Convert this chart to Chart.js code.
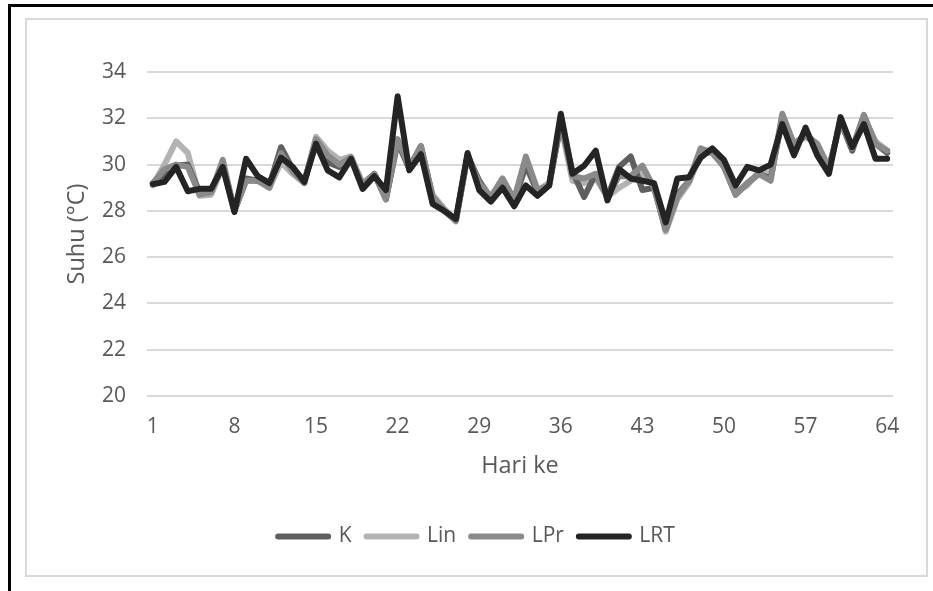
<!DOCTYPE html>
<html>
<head>
<meta charset="utf-8">
<script src="https://cdn.jsdelivr.net/npm/chart.js@4.4.1/dist/chart.umd.min.js"></script>
<style>
  html, body { margin: 0; padding: 0; background: #fff; overflow: hidden; }
  #frame { position: absolute; left: 8px; top: 4px; width: 1000px; height: 700px;
           border-left: 3px solid #000; border-top: 3px solid #000; }
  #box { position: absolute; left: 25px; top: 18px; width: 899px; height: 555px;
         border: 2px solid #d9d9d9; }
  #chart { display: block; }
</style>
</head>
<body>
<div id="frame"></div>
<div id="box"><canvas id="chart" width="899" height="555"></canvas></div>
<script>
const days = Array.from({ length: 64 }, (_, i) => i + 1);
const tickDays = [1, 8, 15, 22, 29, 36, 43, 50, 57, 64];

const valuesK = [29.2, 29.6, 29.95, 30.0, 28.8, 28.85, 30.0, 28.0, 29.4, 29.3,
  29.1, 30.75, 29.8, 29.3, 31.0, 30.1, 29.9, 30.3, 29.1, 29.6,
  28.5, 31.0, 29.8, 30.8, 28.6, 28.0, 27.6, 30.4, 29.3, 28.5,
  29.3, 28.4, 30.0, 28.8, 29.1, 31.8, 29.7, 28.6, 29.6, 28.6,
  29.9, 30.35, 28.9, 29.0, 27.2, 28.7, 29.3, 30.6, 30.6, 29.9,
  28.7, 29.2, 29.6, 29.4, 32.0, 30.8, 31.3, 30.8, 29.8, 31.9,
  30.6, 32.1, 30.9, 30.5];

const valuesLin = [29.1, 30.0, 31.0, 30.5, 28.65, 28.7, 29.9, 28.0, 29.3, 29.3,
  29.0, 30.1, 29.6, 29.2, 31.2, 30.6, 30.2, 30.35, 29.2, 29.6,
  28.6, 30.9, 29.9, 30.7, 28.7, 28.1, 27.6, 30.3, 29.3, 28.6,
  29.2, 28.5, 29.9, 28.9, 29.2, 31.7, 29.3, 29.2, 29.4, 28.6,
  29.0, 29.3, 29.6, 29.1, 27.1, 28.5, 29.2, 30.5, 30.5, 30.0,
  28.8, 29.1, 29.7, 29.6, 32.0, 30.9, 31.2, 30.9, 29.9, 31.8,
  30.7, 32.0, 31.0, 30.6];

const valuesLPr = [29.2, 29.8, 30.0, 29.9, 28.7, 28.8, 30.2, 28.0, 29.3, 29.3,
  29.0, 30.5, 29.7, 29.2, 31.1, 30.4, 30.0, 30.3, 29.1, 29.6,
  28.5, 31.1, 29.9, 30.8, 28.6, 28.0, 27.55, 30.4, 29.2, 28.6,
  29.4, 28.5, 30.35, 28.9, 29.1, 31.9, 29.5, 29.4, 29.6, 28.6,
  29.5, 29.5, 29.95, 29.0, 27.2, 28.6, 29.3, 30.7, 30.5, 29.9,
  28.7, 29.2, 29.6, 29.3, 32.2, 30.9, 31.3, 30.9, 29.8, 31.9,
  30.7, 32.15, 30.9, 30.6];

const valuesLRT = [29.15, 29.25, 29.9, 28.85, 28.95, 28.95, 29.9, 27.95, 30.25, 29.5,
  29.2, 30.3, 29.9, 29.25, 30.9, 29.75, 29.45, 30.25, 28.95, 29.5,
  28.9, 32.95, 29.75, 30.45, 28.3, 28.0, 27.65, 30.5, 28.9, 28.4,
  29.0, 28.2, 29.1, 28.65, 29.1, 32.2, 29.6, 29.95, 30.6, 28.45,
  29.8, 29.4, 29.3, 29.2, 27.5, 29.4, 29.45, 30.3, 30.7, 30.2,
  29.1, 29.9, 29.75, 30.0, 31.75, 30.4, 31.6, 30.4, 29.6, 32.05,
  30.75, 31.75, 30.25, 30.25];

const textColor = '#595959';
const font = 'Open Sans';

const makeSeries = (label, values, color, order) => ({
  label: label,
  data: values,
  borderColor: color,
  backgroundColor: color,
  borderWidth: 6,
  borderJoinStyle: 'round',
  borderCapStyle: 'round',
  pointRadius: 0,
  tension: 0,
  order: order
});

new Chart(document.getElementById('chart').getContext('2d'), {
  type: 'line',
  data: {
    labels: days,
    datasets: [
      makeSeries('K', valuesK, '#5f5f5f', 2),
      makeSeries('Lin', valuesLin, '#b3b3b3', 3),
      makeSeries('LPr', valuesLPr, '#8a8a8a', 1),
      makeSeries('LRT', valuesLRT, '#242424', 0)
    ]
  },
  options: {
    responsive: false,
    animation: false,
    layout: {
      padding: { top: 52, left: 0, right: 0, bottom: 18 }
    },
    plugins: {
      tooltip: { enabled: false },
      legend: {
        position: 'bottom',
        labels: {
          color: textColor,
          font: { family: font, size: 21 },
          boxWidth: 50,
          boxHeight: 0,
          padding: 15,
          sort: (a, b) => a.datasetIndex - b.datasetIndex
        }
      }
    },
    scales: {
      x: {
        offset: true,
        grid: { display: false, drawTicks: false },
        border: { display: false },
        ticks: {
          autoSkip: false,
          maxRotation: 0,
          padding: 18,
          color: textColor,
          font: { family: font, size: 21 },
          callback: function (value, index) {
            const day = days[index];
            return tickDays.includes(day) ? String(day) : '';
          }
        },
        title: {
          display: true,
          text: 'Hari ke',
          color: textColor,
          font: { family: font, size: 23.5 },
          padding: { top: 0, bottom: 31 }
        },
        afterFit: scale => {
          scale.height = 115;
          scale.paddingRight = 33;
        }
      },
      y: {
        min: 20,
        max: 34,
        ticks: {
          stepSize: 2,
          padding: 21,
          color: textColor,
          font: { family: font, size: 21 }
        },
        grid: { color: '#d9d9d9', lineWidth: 2, drawTicks: false },
        border: { display: false },
        title: {
          display: true,
          text: 'Suhu (°C)',
          color: textColor,
          font: { family: font, size: 23.5 },
          padding: { top: 36, bottom: 0 }
        },
        afterFit: scale => {
          scale.width = 120;
        }
      }
    }
  }
});
</script>
</body>
</html>
